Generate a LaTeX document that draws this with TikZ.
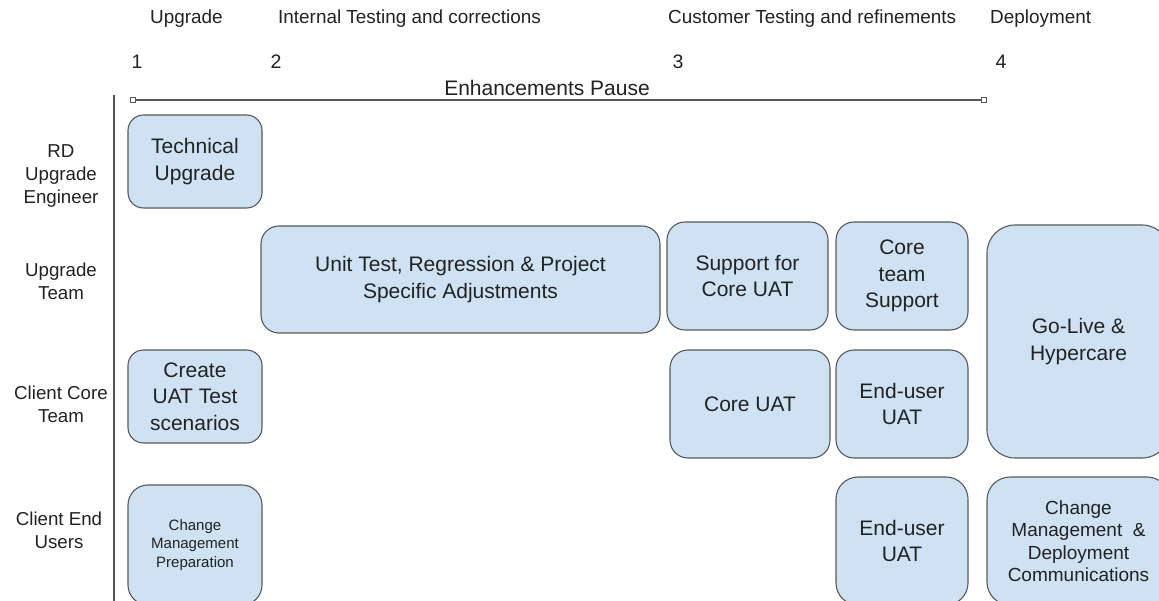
\documentclass[tikz,border=0pt]{standalone}
\usepackage{fontspec}
\setmainfont{Liberation Sans}
\definecolor{boxfill}{HTML}{CFE2F3}
\definecolor{boxline}{HTML}{595959}
\definecolor{txt}{HTML}{222222}
\definecolor{linegray}{HTML}{555555}
\tikzset{
  box/.style={draw=boxline, fill=boxfill, line width=1.1pt, inner sep=0pt, align=center, text=txt,
    font=\fontsize{21}{26.5}\selectfont},
  rowlab/.style={align=center, text=txt, font=\fontsize{18.7}{23}\selectfont, inner sep=0pt},
  phase/.style={anchor=west, text=txt, font=\fontsize{18.9}{22}\selectfont, inner sep=0pt},
  num/.style={text=txt, font=\fontsize{19.5}{22}\selectfont, inner sep=0pt},
  endsq/.style={draw=linegray, fill=white, line width=0.8pt, minimum size=4.5pt, inner sep=0pt},
}
\begin{document}
\begin{tikzpicture}[x=1pt, y=-1pt]
\useasboundingbox (0,0) rectangle (1159,601);
\clip (0,0) rectangle (1159,601);
% phase headers
\node[phase] (h1) at (150,19) {Upgrade};
\node[phase] (h2) at (278,19) {Internal Testing and corrections};
\node[phase] (h3) at (668,19) {Customer Testing and refinements};
\node[phase] (h4) at (990,19) {Deployment};
% numbers
\node[num] (n1) at (137,62) {1};
\node[num] (n2) at (276,62) {2};
\node[num] (n3) at (678,62) {3};
\node[num] (n4) at (1001,62) {4};
% enhancements pause line
\node[endsq] (e1) at (133,100) {};
\node[endsq] (e2) at (984,100) {};
\draw[linegray, line width=1.1pt] (e1) -- (e2);
\node[text=txt, font=\fontsize{21}{24}\selectfont, inner sep=0pt] (ep) at (547,88) {Enhancements Pause};
% vertical axis
\coordinate (v1) at (114,95);
\coordinate (v2) at (114,605);
\draw[linegray, line width=1.3pt] (v1) -- (v2);
% row labels
\node[rowlab] (r1) at (61,176) {RD\\Upgrade\\Engineer};
\node[rowlab] (r2) at (61,281) {Upgrade\\Team};
\node[rowlab] (r3) at (61,404) {Client Core\\Team};
\node[rowlab] (r4) at (59,530) {Client End\\Users};
% boxes
\node[box, minimum width=134pt, minimum height=93pt, rounded corners=15.5pt] (tech) at (195,161.5) {Technical\\Upgrade};
\node[box, minimum width=399pt, minimum height=107pt, rounded corners=18pt] (unit) at (460.5,279.5) {Unit Test, Regression \& Project\\Specific Adjustments};
\node[box, minimum width=161pt, minimum height=108pt, rounded corners=18pt] (supp) at (747.5,276) {Support for\\Core UAT};
\node[box, minimum width=132pt, minimum height=108pt, rounded corners=18pt] (cts) at (902,276) {Core\\team\\Support};
\node[box, minimum width=183pt, minimum height=233pt, rounded corners=28pt] (golive) at (1078.5,341.5) {Go-Live \&\\Hypercare};
\node[box, minimum width=134pt, minimum height=93pt, rounded corners=15.5pt] (create) at (195,396.5) {Create\\UAT Test\\scenarios};
\node[box, minimum width=160pt, minimum height=108pt, rounded corners=18pt] (coreuat) at (750,404) {Core UAT};
\node[box, minimum width=132pt, minimum height=108pt, rounded corners=18pt] (eu1) at (902,404) {End-user\\UAT};
\node[box, minimum width=134pt, minimum height=120pt, rounded corners=20pt, font=\fontsize{15}{18.5}\selectfont] (cmp) at (195,545) {Change\\Management\\Preparation};
\node[box, minimum width=132pt, minimum height=128pt, rounded corners=22pt] (eu2) at (902,541) {End-user\\UAT};
\node[box, minimum width=183pt, minimum height=128pt, rounded corners=23pt, font=\fontsize{19}{22.5}\selectfont] (cmd) at (1078.5,541) {Change\\Management\ \ \&\\Deployment\\Communications};
\end{tikzpicture}
\end{document}
